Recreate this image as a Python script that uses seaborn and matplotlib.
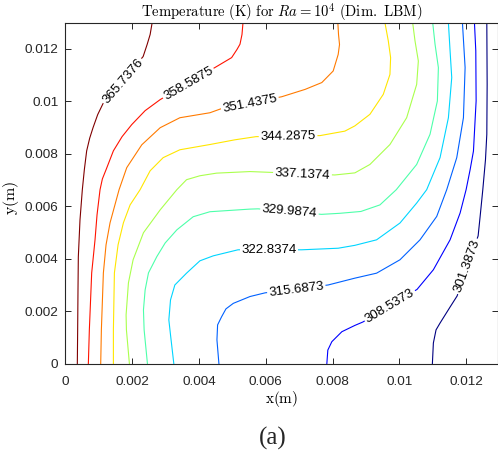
import numpy as np
import pandas as pd
import matplotlib
matplotlib.use("Agg")
import matplotlib.pyplot as plt
import seaborn as sns

# ---- data (isotherms, coordinates in mm) ----
levels = [301.3873, 308.5373, 315.6873, 322.8374, 329.9874,
          337.1374, 344.2875, 351.4375, 358.5875, 365.7376]
level_labels = ["301.3873", "308.5373", "315.6873", "322.8374", "329.9874",
                "337.1374", "344.2875", "351.4375", "358.5875", "365.7376"]

iso_365_x = [0.36, 0.37, 0.38, 0.39, 0.44, 0.51, 0.57, 0.64, 0.73, 0.83, 0.97, 1.13, 2.33, 2.45, 2.54, 2.60]
iso_365_y = [0.0, 1.30, 2.82, 4.08, 5.49, 6.64, 7.40, 8.12, 8.60, 9.00, 9.50, 9.92, 11.71, 12.17, 12.55, 13.0]

iso_358_x = [0.69, 0.72, 0.79, 0.89, 0.95, 1.04, 1.11, 1.22, 1.44, 1.70, 1.99, 2.39, 2.84, 4.53, 4.98, 5.14, 5.23, 5.29, 5.32]
iso_358_y = [0.0, 1.30, 3.47, 4.73, 5.68, 6.64, 7.05, 7.40, 8.12, 8.66, 9.12, 9.65, 10.07, 11.33, 11.67, 11.98, 12.18, 12.55, 13.0]

iso_351_x = [1.06, 1.08, 1.14, 1.22, 1.34, 1.61, 1.84, 2.29, 2.84, 3.43, 4.33, 4.68, 6.48, 7.18, 7.68, 8.02, 8.17, 8.21, 8.18, 8.16]
iso_351_y = [0.0, 1.30, 3.47, 4.54, 5.38, 6.64, 7.48, 8.35, 9.00, 9.38, 9.57, 9.73, 10.18, 10.46, 10.72, 11.16, 11.79, 12.17, 12.55, 13.0]

iso_344_x = [1.44, 1.44, 1.47, 1.58, 1.74, 1.94, 2.24, 2.54, 2.93, 3.43, 4.33, 5.08, 5.71, 7.63, 8.37, 8.67, 9.12, 9.52, 9.72, 9.74, 9.67, 9.57]
iso_344_y = [0.0, 1.30, 3.47, 4.54, 5.38, 6.06, 6.64, 7.36, 7.86, 8.16, 8.36, 8.54, 8.66, 8.70, 8.87, 9.07, 9.51, 10.27, 11.03, 11.67, 12.31, 13.0]

iso_337_x = [1.92, 1.83, 1.82, 1.89, 2.03, 2.34, 2.84, 3.34, 3.63, 4.03, 4.53, 5.53, 6.13, 8.07, 8.67, 9.12, 9.72, 10.22, 10.52, 10.57, 10.47, 10.40]
iso_337_y = [0.0, 1.30, 1.87, 3.09, 3.97, 5.00, 5.87, 6.64, 7.02, 7.17, 7.27, 7.33, 7.30, 7.20, 7.28, 7.60, 8.36, 9.38, 10.65, 11.54, 12.31, 13.0]

iso_329_x = [2.46, 2.36, 2.34, 2.39, 2.49, 2.74, 2.99, 3.34, 3.83, 4.33, 5.53, 5.77, 7.67, 8.22, 8.85, 9.42, 9.91, 10.52, 10.92, 11.14, 11.17, 11.07, 11.00]
iso_329_y = [0.0, 1.30, 2.06, 2.82, 3.47, 4.09, 4.61, 5.11, 5.61, 5.80, 5.90, 5.91, 5.70, 5.74, 5.81, 6.06, 6.64, 7.60, 8.75, 10.02, 11.29, 12.18, 13.0]

iso_322_x = [3.25, 3.15, 3.10, 3.15, 3.28, 3.63, 4.03, 4.43, 5.17, 7.08, 8.17, 8.67, 9.32, 10.02, 10.52, 10.82, 11.22, 11.47, 11.57, 11.52, 11.47]
iso_322_y = [0.0, 1.11, 1.68, 2.44, 3.01, 3.46, 3.93, 4.12, 4.35, 4.35, 4.41, 4.52, 4.73, 5.37, 6.13, 6.64, 7.86, 9.38, 10.91, 11.93, 13.0]

iso_315_x = [4.60, 4.54, 4.56, 4.68, 4.81, 5.03, 5.53, 5.98, 7.87, 8.67, 9.32, 10.02, 10.62, 11.12, 11.42, 11.72, 11.92, 11.97, 11.89]
iso_315_y = [0.0, 0.92, 1.49, 1.80, 2.10, 2.31, 2.57, 2.71, 3.01, 3.27, 3.46, 3.97, 4.73, 5.62, 6.64, 7.86, 9.38, 11.29, 13.0]

iso_308_x = [7.83, 7.86, 7.98, 8.28, 8.67, 8.91, 10.53, 11.02, 11.52, 11.82, 12.00, 12.12, 12.22, 12.30, 12.29, 12.25]
iso_308_y = [0.0, 0.53, 0.85, 1.23, 1.47, 1.60, 2.84, 3.59, 4.73, 5.75, 6.64, 7.40, 8.11, 10.02, 11.93, 13.0]

iso_301_x = [10.99, 11.02, 11.10, 11.22, 11.52, 11.73, 12.36, 12.42, 12.50, 12.58, 12.62, 12.63, 12.62]
iso_301_y = [0.0, 0.80, 1.30, 1.56, 2.17, 2.59, 4.88, 5.62, 6.64, 7.78, 8.75, 10.65, 13.0]

# inline label placement (mm) and angle (deg)
label_x = [12.04, 9.72, 6.92, 6.10, 6.71, 7.10, 6.67, 5.53, 3.69, 1.73]
label_y = [3.72, 2.21, 2.82, 4.33, 5.80, 7.21, 8.68, 9.90, 10.68, 10.76]
label_rot = [70, 31, 7, 0, -5, -3, 1, 11, 30, 49]

xticks = [0, 0.002, 0.004, 0.006, 0.008, 0.01, 0.012]
xtick_labels = ["0", "0.002", "0.004", "0.006", "0.008", "0.01", "0.012"]
yticks = [0, 0.002, 0.004, 0.006, 0.008, 0.01, 0.012]
ytick_labels = ["0", "0.002", "0.004", "0.006", "0.008", "0.01", "0.012"]

iso_x = [iso_301_x, iso_308_x, iso_315_x, iso_322_x, iso_329_x,
         iso_337_x, iso_344_x, iso_351_x, iso_358_x, iso_365_x]
iso_y = [iso_301_y, iso_308_y, iso_315_y, iso_322_y, iso_329_y,
         iso_337_y, iso_344_y, iso_351_y, iso_358_y, iso_365_y]

frames = []
for lab, xs, ys in zip(level_labels, iso_x, iso_y):
    frames.append(pd.DataFrame({"x": np.array(xs) * 1e-3,
                                "y": np.array(ys) * 1e-3,
                                "level": lab}))
df = pd.concat(frames, ignore_index=True)

# ---- style ----
sns.set_theme(style="ticks")
plt.rcParams["font.family"] = ["Liberation Sans", "DejaVu Sans"]
plt.rcParams["mathtext.fontset"] = "cm"

cmap = plt.get_cmap("jet")
vals = np.array(levels)
norm = (vals - vals.min()) / (vals.max() - vals.min())
palette = {lab: cmap(v) for lab, v in zip(level_labels, norm)}

W, H = 498, 458
fig = plt.figure(figsize=(W / 100, H / 100), dpi=100)
ax = fig.add_axes([65.3 / W, (H - 364) / H, (497.5 - 65.3) / W, (364 - 22.7) / H])

sns.lineplot(data=df, x="x", y="y", hue="level", palette=palette,
             estimator=None, sort=False, legend=False, linewidth=0.8, ax=ax)

for lab, lx, ly, rot in zip(level_labels, label_x, label_y, label_rot):
    ax.text(lx * 1e-3, ly * 1e-3, lab, rotation=rot, rotation_mode="anchor",
            ha="center", va="center", fontsize=9.5, color="black",
            family=["Liberation Sans", "DejaVu Sans"],
            bbox=dict(facecolor="white", edgecolor="none", pad=1.2), zorder=5)

ax.set_xlim(0, 0.01294)
ax.set_ylim(0, 0.013)
ax.set_xticks(xticks)
ax.set_xticklabels(xtick_labels)
ax.set_yticks(yticks)
ax.set_yticklabels(ytick_labels)

dark = "#262626"
for sp in ax.spines.values():
    sp.set_visible(True)
    sp.set_color(dark)
    sp.set_linewidth(0.8)
ax.tick_params(direction="in", top=True, right=True, length=4.5, width=0.7,
               colors=dark, labelsize=9.7)
ax.tick_params(axis="x", pad=8.5)
ax.tick_params(axis="y", pad=5)

ax.set_xlabel(r"$\mathrm{x(m)}$", fontsize=11, labelpad=1, color="black")
ax.set_ylabel(r"$\mathrm{y(m)}$", fontsize=11.5, color="black")
ax.yaxis.label.set_verticalalignment("center")
ax.yaxis.set_label_coords(-0.125, 0.486)
ax.set_title(r"$\mathrm{Temperature\ (K)\ for\ }Ra = 10^4\mathrm{\ (Dim.\ LBM)}$",
             fontsize=10.6, pad=4, color="black")

fig.text(273 / W, 1 - 438 / H, "(a)", ha="center", va="center",
         fontsize=18, family=["Liberation Serif", "DejaVu Serif"])

fig.savefig("out.png", dpi=100)
